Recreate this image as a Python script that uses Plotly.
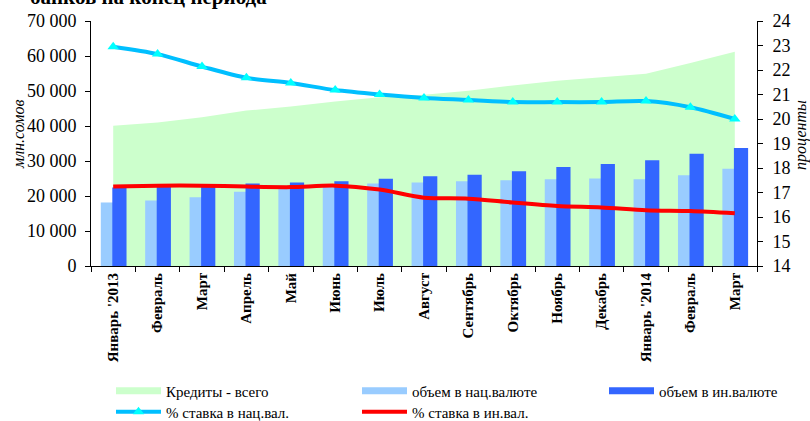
import plotly.graph_objects as go

months = ["Январь '2013", "Февраль", "Март", "Апрель", "Май", "Июнь", "Июль",
          "Август", "Сентябрь", "Октябрь", "Ноябрь", "Декабрь", "Январь '2014",
          "Февраль", "Март"]
credits_total = [40100, 41000, 42500, 44400, 45600, 47000, 48200, 48900, 50100,
                 51600, 52900, 53900, 54900, 58000, 61250]
vol_national = [18150, 18700, 19650, 21200, 22600, 23350, 23550, 23850, 24200,
                24500, 24800, 25000, 24800, 25900, 27800]
vol_foreign = [22400, 22800, 23000, 23550, 23850, 24200, 24900, 25650, 26100,
               27050, 28300, 29150, 30200, 32100, 33700]
rate_national = [22.95, 22.65, 22.14, 21.68, 21.47, 21.18, 21.0, 20.86, 20.78,
                 20.69, 20.69, 20.69, 20.73, 20.48, 20.0]
rate_foreign = [17.25, 17.28, 17.28, 17.24, 17.22, 17.28, 17.12, 16.79, 16.75,
                16.59, 16.45, 16.39, 16.28, 16.24, 16.15]

title_text = "банков на конец периода"
left_title = "млн.сомов"
right_title = "проценты"
names = ["Кредиты - всего", "объем в нац.валюте", "объем в ин.валюте",
         "% ставка в нац.вал.", "% ставка в ин.вал."]

C_AREA = "#CCFFCC"
C_LIGHT = "#99CCFF"
C_DARK = "#3366FF"
C_CYAN = "#00BFFF"
C_RED = "#FF0000"
FONT = "Liberation Serif, Times New Roman, serif"

W, H = 810, 421
ML, MR, MT, MB = 91, 53, 21, 155
PW, PH = W - ML - MR, H - MT - MB

x = list(range(len(months)))

fig = go.Figure()
# area on main y axis
fig.add_trace(go.Scatter(x=x, y=credits_total, mode="none", fill="tozeroy",
                         fillcolor=C_AREA, showlegend=False, yaxis="y",
                         hoverinfo="skip"))
# bars on overlaying axis y2
fig.add_trace(go.Bar(x=x, y=vol_national, marker=dict(color=C_LIGHT, line=dict(width=0)),
                     width=0.32, offset=-0.28, showlegend=False, yaxis="y2"))
fig.add_trace(go.Bar(x=x, y=vol_foreign, marker=dict(color=C_DARK, line=dict(width=0)),
                     width=0.32, offset=-0.02, showlegend=False, yaxis="y2"))
# lines on right axis y3
fig.add_trace(go.Scatter(x=x, y=rate_national, mode="lines+markers", name=names[3],
                         line=dict(color=C_CYAN, width=4, shape="spline", smoothing=0.8),
                         marker=dict(symbol="triangle-up", size=10, color="#00FFFF"),
                         yaxis="y3", legend="legend4"))
fig.add_trace(go.Scatter(x=x, y=rate_foreign, mode="lines", name=names[4],
                         line=dict(color=C_RED, width=4, shape="spline", smoothing=0.8),
                         yaxis="y3", legend="legend5"))
# legend swatches for area and bars
for nm, col, lg in zip(names[:3], [C_AREA, C_LIGHT, C_DARK], ["legend", "legend2", "legend3"]):
    fig.add_trace(go.Scatter(x=[None], y=[None], mode="lines", name=nm,
                             line=dict(color=col, width=7), yaxis="y", legend=lg))

axis_font = dict(family=FONT, size=18, color="black")
leg_font = dict(family=FONT, size=15, color="black")


def leg(px_x, px_y):
    return dict(orientation="v", xref="container", yref="container",
                x=px_x / W, y=1 - px_y / H, xanchor="left", yanchor="middle",
                itemwidth=45, font=leg_font, bgcolor="rgba(0,0,0,0)",
                borderwidth=0, tracegroupgap=0)


def px_to_paper(px_x, px_y):
    return (px_x - ML) / PW, (H - MB - px_y) / PH


lx, ly = px_to_paper(18, 135)
rx, ry = px_to_paper(801, 135)
tx, ty = px_to_paper(148, 11)

fig.update_layout(
    width=W, height=H,
    margin=dict(l=ML, r=MR, t=MT, b=MB, autoexpand=False),
    paper_bgcolor="white", plot_bgcolor="white",
    separators=". ",
    barmode="overlay",
    font=dict(family=FONT, color="black"),
    xaxis=dict(range=[-0.5, 14.5], tickmode="array", tickvals=x, ticktext=months,
               tickangle=-90, ticks="", showgrid=False, zeroline=False,
               showline=True, linecolor="black", linewidth=1,
               tickfont=dict(family=FONT, size=15, color="black", weight="bold"),
               minor=dict(tickmode="linear", tick0=-0.5, dtick=1, ticks="outside",
                          ticklen=5, tickcolor="black", showgrid=False)),
    yaxis=dict(range=[0, 70000], dtick=10000, tickformat=",d", showgrid=False,
               zeroline=False, showline=True, linecolor="black", linewidth=1,
               ticks="outside", ticklen=5, tickcolor="black", tickfont=axis_font,
               ticklabelstandoff=5),
    yaxis2=dict(range=[0, 70000], overlaying="y", visible=False),
    yaxis3=dict(range=[14, 24], dtick=1, overlaying="y", side="right", showgrid=False,
                zeroline=False, showline=True, linecolor="black", linewidth=1,
                ticks="outside", ticklen=5, tickcolor="black", tickfont=axis_font,
                ticklabelstandoff=6),
    legend=leg(111, 391),
    legend2=leg(357, 391),
    legend3=leg(604, 391),
    legend4=leg(111, 412),
    legend5=leg(357, 412),
    annotations=[
        dict(text=title_text, xref="paper", yref="paper", x=tx, y=ty,
             xanchor="center", yanchor="bottom", showarrow=False,
             font=dict(family=FONT, size=21, color="black", weight="bold")),
        dict(text=left_title, xref="paper", yref="paper", x=lx, y=ly, textangle=-90,
             xanchor="center", yanchor="middle", showarrow=False,
             font=dict(family=FONT, size=16, style="italic", color="black")),
        dict(text=right_title, xref="paper", yref="paper", x=rx, y=ry, textangle=-90,
             xanchor="center", yanchor="middle", showarrow=False,
             font=dict(family=FONT, size=16, style="italic", color="black")),
    ],
    showlegend=True,
)

fig.write_html("out.html", config={"displayModeBar": False},
               post_script="document.body.style.margin='0';")
